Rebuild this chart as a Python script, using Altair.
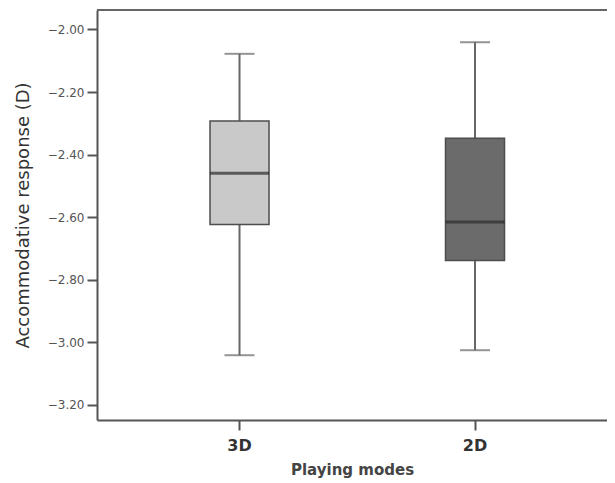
import altair as alt
import pandas as pd

# ---- data ----
categories = ["3D", "2D"]
whisker_low = [-3.041, -3.025]
q1 = [-2.623, -2.738]
median = [-2.460, -2.615]
q3 = [-2.293, -2.348]
whisker_high = [-2.078, -2.041]
y_ticks = [-3.2, -3.0, -2.8, -2.6, -2.4, -2.2, -2.0]
fills = ["#c9c9c9", "#6b6b6b"]

df = pd.DataFrame({
    "mode": categories,
    "low": whisker_low,
    "q1": q1,
    "median": median,
    "q3": q3,
    "high": whisker_high,
})

W, H = 510, 410
ydom = [-3.248, -1.938]

x_enc = alt.X(
    "mode:N",
    sort=categories,
    scale=alt.Scale(paddingInner=0, paddingOuter=0.0828, align=0.635),
    axis=alt.Axis(
        title="Playing modes",
        labelAngle=0,
        labelFont="DejaVu Sans",
        labelFontSize=16,
        labelFontWeight="bold",
        labelColor="#333333",
        labelPadding=7,
        tickSize=10,
        tickColor="#555555",
        tickWidth=2,
        domainColor="#555555",
        domainWidth=2,
        titleFont="DejaVu Sans",
        titleFontSize=15,
        titleFontWeight="bold",
        titleColor="#444444",
        titlePadding=9,
    ),
)

y_axis = alt.Axis(
    title="Accommodative response (D)",
    values=y_ticks,
    format=".2f",
    grid=False,
    labelFont="DejaVu Sans",
    labelFontSize=12,
    labelColor="#555555",
    labelPadding=3,
    tickSize=10,
    tickColor="#555555",
    tickWidth=2,
    domainColor="#555555",
    domainWidth=2,
    titleFont="DejaVu Sans",
    titleFontSize=18,
    titleFontWeight="normal",
    titleColor="#333333",
    titlePadding=15,
)
y_scale = alt.Scale(domain=ydom, nice=False, zero=False)

base = alt.Chart(df)

whisker = base.mark_rule(color="#666666", strokeWidth=2).encode(
    x=x_enc,
    y=alt.Y("low:Q", scale=y_scale, axis=y_axis),
    y2="high:Q",
)

box = base.mark_bar(size=59, stroke="#4d4d4d", strokeWidth=1.5).encode(
    x=alt.X("mode:N", sort=categories),
    y=alt.Y("q1:Q"),
    y2="q3:Q",
    color=alt.Color("mode:N", scale=alt.Scale(domain=categories, range=fills), legend=None),
)

med = base.mark_tick(size=59, thickness=3, color="#2b2b2b").encode(
    x=alt.X("mode:N", sort=categories),
    y=alt.Y("median:Q"),
)

cap_hi = base.mark_tick(size=30, thickness=2, color="#666666").encode(
    x=alt.X("mode:N", sort=categories),
    y=alt.Y("high:Q"),
)
cap_lo = base.mark_tick(size=30, thickness=2, color="#666666").encode(
    x=alt.X("mode:N", sort=categories),
    y=alt.Y("low:Q"),
)

top_border = alt.Chart(pd.DataFrame({"z": [0]})).mark_rule(
    color="#666666", strokeWidth=2
).encode(x=alt.value(0), x2=alt.value(W), y=alt.value(0))

chart = alt.layer(whisker, box, med, cap_hi, cap_lo, top_border).properties(
    width=W,
    height=H,
    autosize=alt.AutoSizeParams(type="none"),
    padding={"left": 89, "top": 2, "right": 0, "bottom": 62},
).configure_view(stroke=None)

chart.save("out.html", embed_options={"renderer": "svg", "actions": False})
